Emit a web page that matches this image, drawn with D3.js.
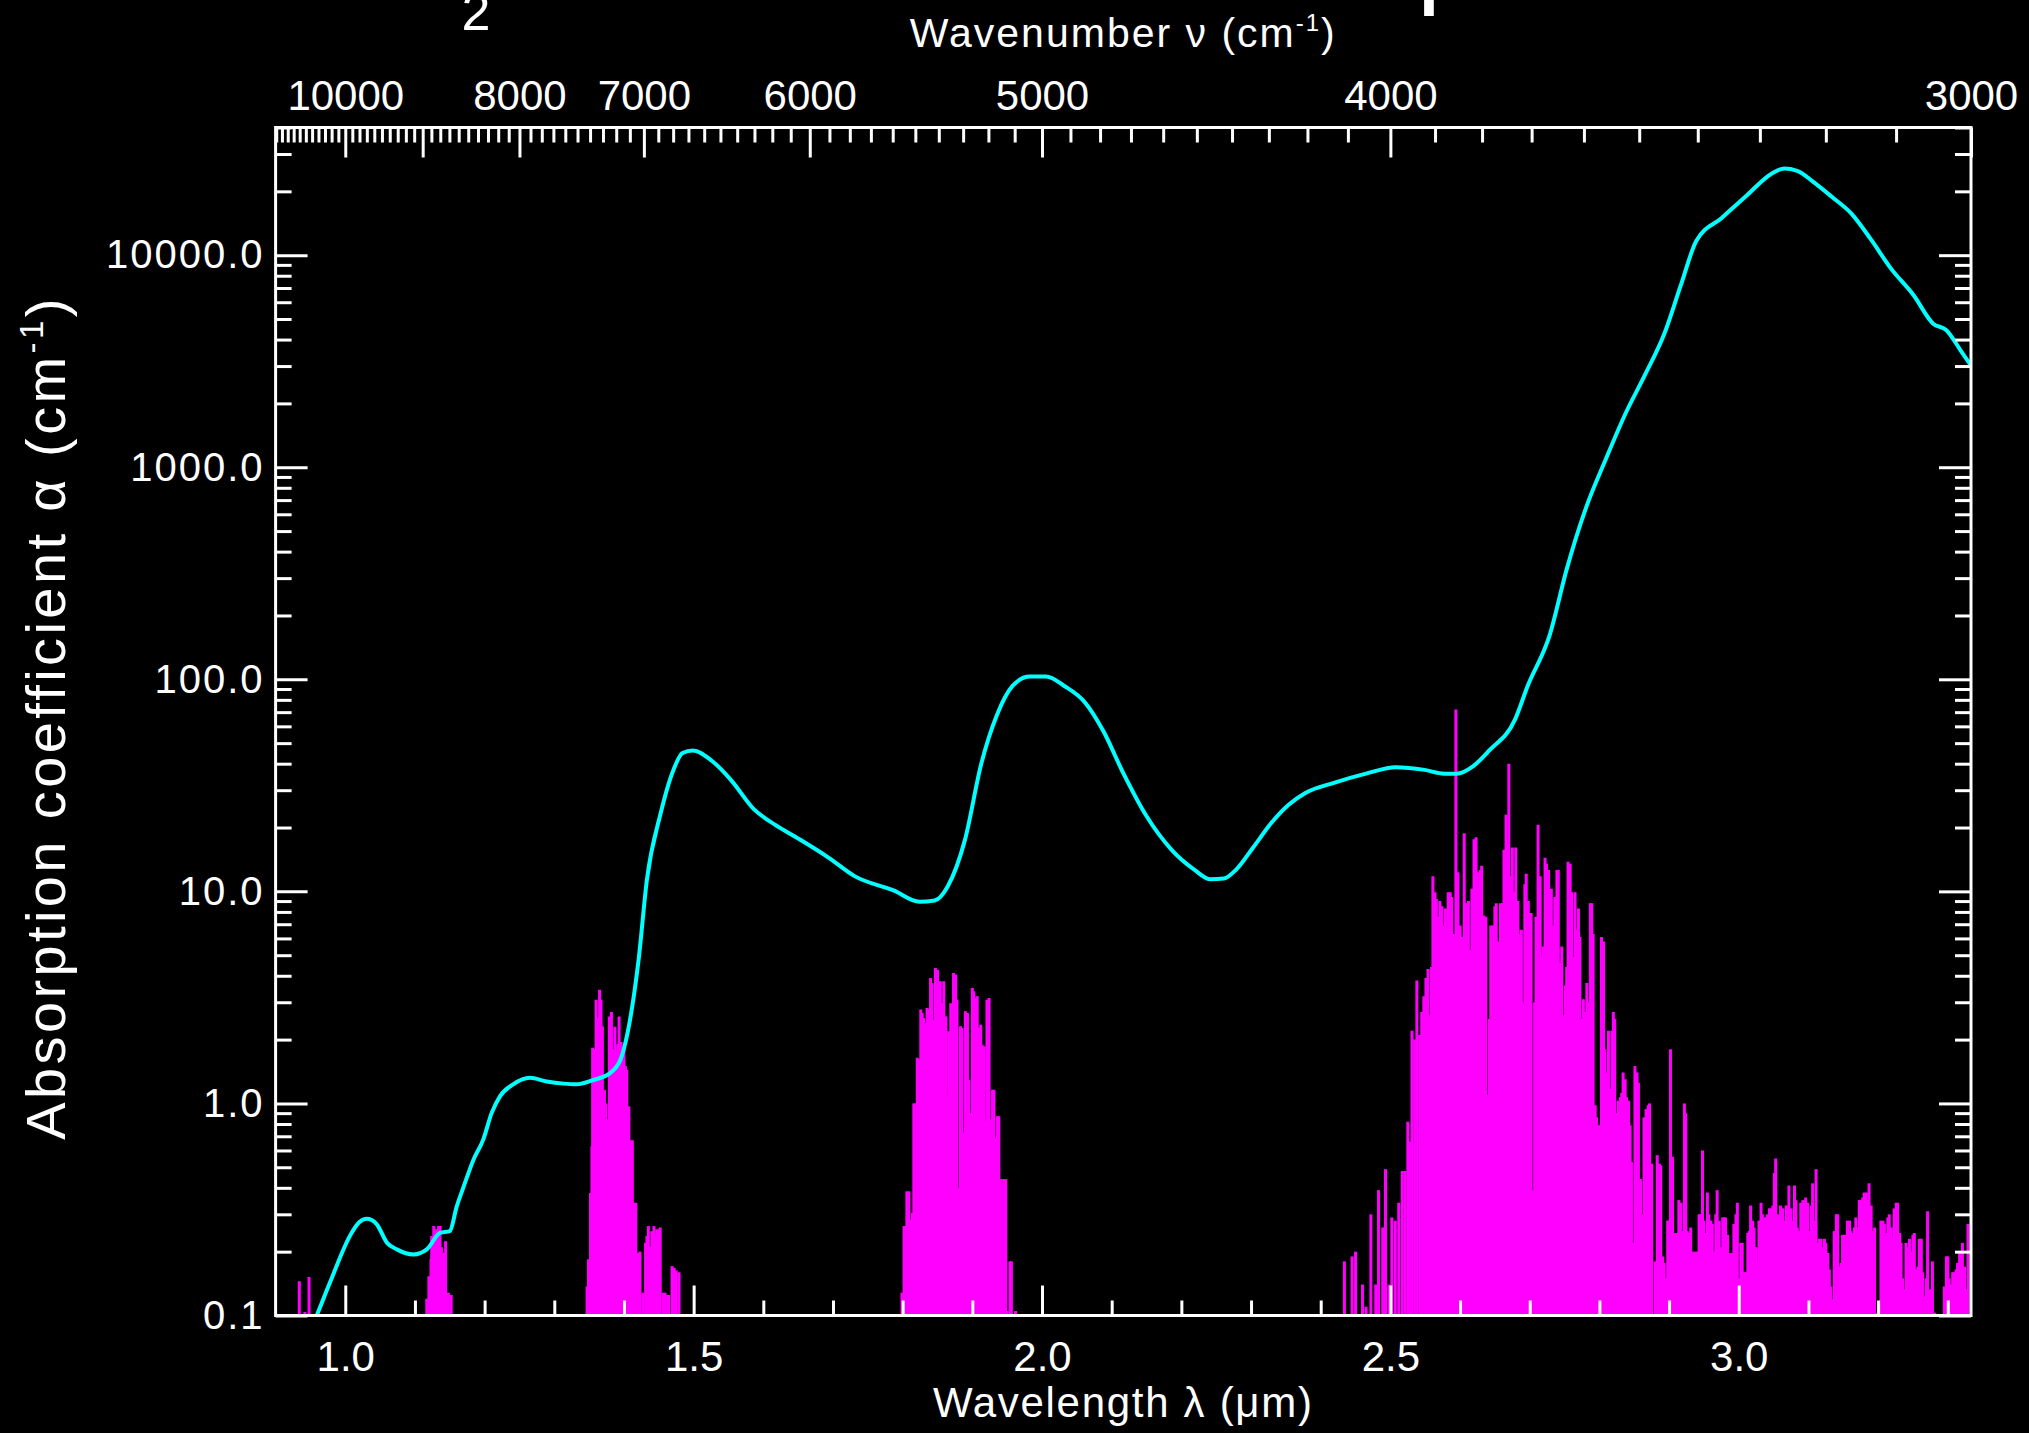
<!DOCTYPE html>
<html>
<head>
<meta charset="utf-8">
<script src="https://cdn.jsdelivr.net/npm/d3@7"></script>
<style>
  html, body { margin: 0; padding: 0; background: #000; }
  svg { display: block; background: #000; }
  text { font-family: "Liberation Sans", Arial, Helvetica, sans-serif; fill: #fff; }
</style>
</head>
<body>
<svg id="chart"></svg>
<script>
// cyan absorption curve [wavelength um, alpha cm-1]
var cyanCurve = [[0.950,0.085],[0.959,0.1],[0.978,0.143],[1.009,0.245],[1.020,0.275],[1.031,0.286],[1.045,0.27],[1.060,0.22],[1.074,0.205],[1.098,0.194],[1.117,0.205],[1.136,0.245],[1.150,0.25],[1.160,0.327],[1.170,0.406],[1.184,0.543],[1.198,0.675],[1.210,0.90],[1.222,1.08],[1.241,1.23],[1.265,1.32],[1.289,1.27],[1.313,1.24],[1.332,1.23],[1.356,1.29],[1.380,1.39],[1.395,1.61],[1.402,1.93],[1.421,4.76],[1.433,11.4],[1.452,22.9],[1.471,37.4],[1.484,44.9],[1.499,46.2],[1.526,41.3],[1.554,33.4],[1.586,24.5],[1.616,20.7],[1.647,18.0],[1.694,14.4],[1.731,11.8],[1.787,10.1],[1.824,8.93],[1.846,9.06],[1.865,10.6],[1.889,17.3],[1.913,40.2],[1.935,67.5],[1.958,93.3],[1.982,103],[2.006,103],[2.032,93],[2.062,77.6],[2.088,57.0],[2.117,35.9],[2.149,22.9],[2.186,15.7],[2.218,12.7],[2.242,11.4],[2.261,11.5],[2.279,12.7],[2.303,16.1],[2.329,21.0],[2.354,25.6],[2.378,29.1],[2.419,32.5],[2.465,35.9],[2.508,38.5],[2.549,37.4],[2.577,35.9],[2.595,35.9],[2.619,39.0],[2.642,46.2],[2.679,64.7],[2.697,93],[2.729,163],[2.753,330],[2.781,647],[2.809,1088],[2.837,1778],[2.865,2710],[2.893,4246],[2.917,7244],[2.939,11670],[2.976,15030],[3.013,19350],[3.047,24230],[3.065,25640],[3.084,25000],[3.106,22300],[3.134,18800],[3.162,15660],[3.190,11830],[3.218,8690],[3.251,6470],[3.279,4755],[3.298,4430],[3.320,3490],[3.337,2900]];

// magenta line spectrum, one band per array [wavelength um, alpha]
var bandA = [[0.934,0.145],[0.942,0.104],[0.948,0.152]];
var bandB = [[1.117,0.12],[1.120,0.153],[1.123,0.184],[1.124,0.237],[1.127,0.264],[1.129,0.25],[1.131,0.255],[1.134,0.264],[1.136,0.264],[1.138,0.21],[1.141,0.198],[1.144,0.224],[1.148,0.128],[1.152,0.125]];
var bandC = [[1.347,0.137],[1.349,0.184],[1.352,0.378],[1.354,0.628],[1.355,1.83],[1.358,1.8],[1.360,3.08],[1.363,2.53],[1.365,3.44],[1.367,3.08],[1.369,2.31],[1.372,1.16],[1.374,1.0],[1.377,0.84],[1.379,2.57],[1.382,2.7],[1.384,1.8],[1.387,2.3],[1.389,1.75],[1.391,1.9],[1.393,2.57],[1.396,1.95],[1.398,1.8],[1.400,1.85],[1.402,1.5],[1.404,1.44],[1.407,0.97],[1.410,0.67],[1.412,0.67],[1.414,0.34],[1.417,0.34],[1.420,0.197],[1.423,0.2],[1.427,0.128],[1.431,0.22],[1.433,0.237],[1.435,0.264],[1.438,0.21],[1.440,0.25],[1.443,0.264],[1.445,0.237],[1.447,0.255],[1.450,0.255],[1.452,0.26],[1.456,0.128],[1.459,0.128],[1.462,0.125],[1.464,0.125],[1.469,0.171],[1.472,0.168],[1.475,0.163],[1.479,0.16]];
var bandD = [[1.799,0.128],[1.802,0.264],[1.804,0.264],[1.806,0.385],[1.809,0.385],[1.811,0.283],[1.814,0.305],[1.816,1.0],[1.818,1.0],[1.821,1.64],[1.823,1.61],[1.826,2.77],[1.828,2.67],[1.830,2.53],[1.833,2.39],[1.835,2.82],[1.838,2.77],[1.840,3.9],[1.842,3.7],[1.845,2.48],[1.847,4.35],[1.850,4.27],[1.852,2.77],[1.854,3.77],[1.857,2.97],[1.859,3.77],[1.862,2.58],[1.864,1.1],[1.866,2.19],[1.869,2.97],[1.871,2.23],[1.873,4.12],[1.876,4.05],[1.878,3.08],[1.881,0.4],[1.883,2.31],[1.885,2.27],[1.888,0.73],[1.890,2.72],[1.893,2.67],[1.895,1.29],[1.897,0.9],[1.900,3.5],[1.902,3.38],[1.905,3.14],[1.907,3.2],[1.909,2.27],[1.912,2.35],[1.914,1.89],[1.917,1.86],[1.919,0.82],[1.921,3.08],[1.924,3.14],[1.926,0.84],[1.929,1.16],[1.931,1.16],[1.933,0.69],[1.936,0.87],[1.938,0.87],[1.941,0.44],[1.943,0.42],[1.945,0.44],[1.948,0.44],[1.950,0.105],[1.954,0.18],[1.956,0.18],[1.962,0.105]];
var bandE1 = [[2.434,0.18],[2.445,0.19],[2.450,0.20],[2.460,0.14],[2.465,0.11],[2.472,0.30],[2.479,0.14],[2.483,0.39],[2.489,0.26],[2.493,0.49],[2.498,0.14],[2.502,0.29],[2.507,0.28],[2.512,0.34],[2.517,0.48],[2.521,0.48],[2.525,0.82],[2.528,0.66],[2.531,2.2],[2.535,2.0],[2.538,3.8],[2.542,2.1],[2.545,2.7],[2.548,3.2],[2.551,3.9],[2.554,4.3],[2.557,2.6],[2.559,4.4],[2.561,11.8],[2.564,9.9],[2.566,9.2],[2.569,7.6],[2.571,9.0],[2.574,8.5],[2.576,6.9],[2.579,8.3],[2.581,6.6],[2.583,9.9],[2.586,9.9],[2.588,9.4],[2.591,6.3],[2.594,72],[2.597,12.3],[2.600,6.9],[2.603,6.1],[2.606,18.8],[2.609,8.8],[2.612,9.0],[2.614,5.3],[2.617,10.3],[2.620,17.6],[2.623,18],[2.626,12.3],[2.629,12.6],[2.631,13.2],[2.634,7.7],[2.637,7.6],[2.639,1.1],[2.642,2.5],[2.644,6.9],[2.647,6.9],[2.650,8.5],[2.652,8.8],[2.655,5.8],[2.658,8.8],[2.661,8.8],[2.663,15.7],[2.666,23],[2.668,16.8],[2.670,40],[2.673,11.8],[2.675,16.1],[2.678,9.9],[2.680,16.1],[2.683,9.0],[2.686,6.3],[2.688,6.6],[2.690,3.0],[2.693,10.8],[2.695,12.1],[2.698,9.0],[2.700,7.9],[2.702,7.9],[2.704,0.39],[2.707,3.0],[2.709,7.6],[2.712,20.6],[2.715,11.8],[2.717,4.9],[2.719,5.5],[2.722,14.4],[2.724,13.5],[2.727,12.6],[2.729,0.66],[2.731,10.3],[2.733,6.9],[2.736,9.4],[2.739,12.6],[2.741,12.6],[2.743,4.6],[2.746,5.5],[2.748,2.6],[2.751,3.6],[2.753,4.4],[2.755,13.8],[2.758,13.5],[2.760,9.9],[2.763,4.9],[2.765,9.9],[2.767,6.6],[2.770,8.3],[2.772,6.1],[2.775,2.5],[2.777,3.1],[2.779,2.7],[2.782,3.7],[2.784,3.0],[2.787,8.8],[2.789,8.8],[2.791,6.3],[2.794,0.98],[2.796,0.86],[2.799,0.79],[2.801,0.53],[2.803,6.1],[2.806,5.8],[2.808,1.8],[2.810,1.4],[2.813,2.2],[2.815,1.17],[2.818,2.2],[2.820,2.7],[2.822,2.5],[2.825,0.90],[2.827,1.03],[2.830,1.07],[2.832,1.12],[2.834,1.4],[2.837,1.3],[2.839,1.07],[2.842,1.03],[2.844,0.79],[2.846,0.53],[2.849,0.22],[2.851,1.5],[2.854,1.4],[2.856,1.25]];
var bandE2 = [[2.859,0.44],[2.862,0.3],[2.864,0.86],[2.867,0.94],[2.870,0.98],[2.872,1.0],[2.875,0.52],[2.880,0.18],[2.883,0.57],[2.886,0.52],[2.888,0.51],[2.891,0.19],[2.893,0.177],[2.895,0.15],[2.898,0.28],[2.900,0.28],[2.902,1.8],[2.905,0.56],[2.907,0.245],[2.910,0.245],[2.912,0.245],[2.914,0.35],[2.917,0.34],[2.919,0.25],[2.922,1.0],[2.924,0.9],[2.926,0.25],[2.929,0.245],[2.931,0.26],[2.934,0.20],[2.936,0.18],[2.938,0.20],[2.941,0.20],[2.943,0.30],[2.946,0.30],[2.948,0.60],[2.950,0.28],[2.953,0.245],[2.955,0.38],[2.957,0.30],[2.960,0.28],[2.962,0.27],[2.965,0.20],[2.967,0.30],[2.969,0.39],[2.972,0.28],[2.974,0.21],[2.977,0.29],[2.979,0.29],[2.981,0.29],[2.984,0.24],[2.986,0.197],[2.989,0.197],[2.991,0.197],[2.993,0.27],[2.996,0.30],[2.998,0.34],[3.001,0.15],[3.003,0.22],[3.005,0.22],[3.008,0.16],[3.010,0.16],[3.013,0.245],[3.015,0.25],[3.017,0.33],[3.020,0.28],[3.022,0.26],[3.025,0.21],[3.027,0.177],[3.029,0.28],[3.032,0.34],[3.034,0.30],[3.037,0.29],[3.039,0.29],[3.041,0.30],[3.044,0.32],[3.046,0.32],[3.049,0.33],[3.051,0.47],[3.053,0.55],[3.056,0.30],[3.058,0.29],[3.060,0.33],[3.063,0.32],[3.065,0.28],[3.068,0.33],[3.070,0.33],[3.072,0.41],[3.075,0.32],[3.077,0.28],[3.080,0.41],[3.082,0.35],[3.084,0.26],[3.087,0.25],[3.089,0.34],[3.092,0.35],[3.094,0.34],[3.096,0.36],[3.099,0.34],[3.101,0.25],[3.104,0.33],[3.106,0.42],[3.108,0.28],[3.111,0.49],[3.113,0.22],[3.116,0.23],[3.118,0.23],[3.120,0.21],[3.123,0.23],[3.125,0.22],[3.128,0.197],[3.130,0.165],[3.132,0.137],[3.135,0.119],[3.137,0.25],[3.140,0.30],[3.142,0.30],[3.144,0.17],[3.147,0.177],[3.149,0.24],[3.152,0.24],[3.154,0.20],[3.156,0.28],[3.159,0.28],[3.161,0.25],[3.163,0.245],[3.166,0.26],[3.168,0.29],[3.171,0.26],[3.173,0.35],[3.175,0.35],[3.178,0.36],[3.180,0.38],[3.183,0.38],[3.185,0.35],[3.187,0.42],[3.190,0.33],[3.192,0.25],[3.195,0.26],[3.197,0.103],[3.200,0.103],[3.202,0.11],[3.204,0.28],[3.207,0.28],[3.209,0.27],[3.211,0.245],[3.214,0.29],[3.216,0.30],[3.219,0.26],[3.221,0.23],[3.223,0.32],[3.226,0.34],[3.228,0.34],[3.231,0.245],[3.233,0.22],[3.235,0.15],[3.238,0.133],[3.240,0.22],[3.243,0.21],[3.245,0.23],[3.247,0.20],[3.250,0.24],[3.252,0.245],[3.254,0.165],[3.257,0.17],[3.259,0.23],[3.262,0.23],[3.264,0.16],[3.266,0.123],[3.269,0.15],[3.271,0.31],[3.274,0.133],[3.276,0.119],[3.278,0.18],[3.281,0.103],[3.295,0.137],[3.298,0.19],[3.300,0.19],[3.302,0.15],[3.305,0.14],[3.307,0.16],[3.309,0.16],[3.312,0.165],[3.314,0.177],[3.317,0.197],[3.319,0.19],[3.321,0.22],[3.324,0.17],[3.326,0.133],[3.329,0.27]];

// tick values
var xMajor = [1.0, 1.5, 2.0, 2.5, 3.0];
var xMinor = [1.1, 1.2, 1.3, 1.4, 1.6, 1.7, 1.8, 1.9, 2.1, 2.2, 2.3, 2.4, 2.6, 2.7, 2.8, 2.9, 3.1, 3.2, 3.3];
var yMajor = [0.1, 1, 10, 100, 1000, 10000];
var nuMajor = [10000, 9000, 8000, 7000, 6000, 5000, 4000, 3000];
var nuLabels = [10000, 8000, 7000, 6000, 5000, 4000, 3000];

var width = 2029, height = 1433;
var pLeft = 275.6, pRight = 1971, pTop = 127.5, pBottom = 1315.5;

var svg = d3.select("#chart").attr("width", width).attr("height", height);

var x = d3.scaleLinear().domain([0.9, 10 / 3]).range([pLeft, pRight]);
var y = d3.scaleLog().domain([0.1, 40000]).range([pBottom, pTop]);

// wavenumber (cm-1) -> pixel, shaped so d3.axisTop can use it
var nu = function(n) { return x(1e4 / n); };
nu.copy = function() { return nu; };
nu.range = function() { return x.range(); };
nu.domain = function() { return [1e4 / 0.9, 3000]; };

// y minor ticks 2..9 per decade
var yMinor = [];
yMajor.forEach(function(d) {
    for (var k = 2; k <= 9; k++) { if (d * k <= 40000) yMinor.push(d * k); }
});
var nuMinor = d3.range(3000, 11101, 100).filter(function(n) { return nuMajor.indexOf(n) < 0; });

svg.append("defs").append("clipPath").attr("id", "plotclip")
  .append("rect").attr("x", pLeft).attr("y", pTop).attr("width", pRight - pLeft).attr("height", pBottom - pTop);

// magenta lines
var sticks = bandA.concat(bandB, bandC, bandD, bandE1, bandE2);
svg.append("g").attr("clip-path", "url(#plotclip)")
  .selectAll("line").data(sticks).join("line")
    .attr("x1", function(d) { return x(d[0]); })
    .attr("x2", function(d) { return x(d[0]); })
    .attr("y1", y(0.1))
    .attr("y2", function(d) { return y(d[1]); })
    .attr("stroke", "#ff00ff")
    .attr("stroke-width", 3);

// cyan curve
var line = d3.line()
  .x(function(d) { return x(d[0]); })
  .y(function(d) { return y(d[1]); })
  .curve(d3.curveMonotoneX);
svg.append("g").attr("clip-path", "url(#plotclip)")
  .append("path").datum(cyanCurve)
    .attr("d", line)
    .attr("fill", "none")
    .attr("stroke", "#00ffff")
    .attr("stroke-width", 4)
    .attr("stroke-linejoin", "round");

function styleAxis(g, size) {
    g.select(".domain").remove();
    g.selectAll(".tick line").attr("stroke", "#fff").attr("stroke-width", 3);
    g.selectAll(".tick text").attr("font-size", size);
}

// bottom axis
svg.append("g").attr("transform", "translate(0," + pBottom + ")")
  .call(d3.axisBottom(x).tickValues(xMajor).tickSize(-30).tickPadding(26).tickFormat(d3.format(".1f")))
  .call(styleAxis, 42);
svg.append("g").attr("transform", "translate(0," + pBottom + ")")
  .call(d3.axisBottom(x).tickValues(xMinor).tickSize(-15).tickFormat(""))
  .call(styleAxis, 0);

// top axis (wavenumber)
svg.append("g").attr("transform", "translate(0," + pTop + ")")
  .call(d3.axisTop(nu).tickValues(nuMajor).tickSize(-30).tickPadding(18)
        .tickFormat(function(d) { return nuLabels.indexOf(d) >= 0 ? d : ""; }))
  .call(styleAxis, 42);
svg.append("g").attr("transform", "translate(0," + pTop + ")")
  .call(d3.axisTop(nu).tickValues(nuMinor).tickSize(-15).tickFormat(""))
  .call(styleAxis, 0);

// left axis
var gy = svg.append("g").attr("transform", "translate(" + pLeft + ",0)")
  .call(d3.axisLeft(y).tickValues(yMajor).tickSize(-32).tickPadding(11).tickFormat(d3.format(".1f")))
  .call(styleAxis, 40);
gy.selectAll(".tick text").attr("letter-spacing", 2);
svg.append("g").attr("transform", "translate(" + pLeft + ",0)")
  .call(d3.axisLeft(y).tickValues(yMinor).tickSize(-16).tickFormat(""))
  .call(styleAxis, 0);

// right axis
svg.append("g").attr("transform", "translate(" + pRight + ",0)")
  .call(d3.axisRight(y).tickValues(yMajor).tickSize(-32).tickFormat(""))
  .call(styleAxis, 0);
svg.append("g").attr("transform", "translate(" + pRight + ",0)")
  .call(d3.axisRight(y).tickValues(yMinor).tickSize(-16).tickFormat(""))
  .call(styleAxis, 0);

// frame
svg.append("rect")
  .attr("x", pLeft).attr("y", pTop)
  .attr("width", pRight - pLeft).attr("height", pBottom - pTop)
  .attr("fill", "none").attr("stroke", "#fff").attr("stroke-width", 3);

// titles
var cx = (pLeft + pRight) / 2;
svg.append("text").attr("x", cx).attr("y", 1417)
  .attr("text-anchor", "middle").attr("font-size", 42).attr("letter-spacing", 1.7)
  .text("Wavelength λ (μm)");

var tt = svg.append("text").attr("x", cx).attr("y", 47)
  .attr("text-anchor", "middle").attr("font-size", 41).attr("letter-spacing", 2);
tt.append("tspan").text("Wavenumber ν (cm");
tt.append("tspan").attr("font-size", 24).attr("dy", -16).text("-1");
tt.append("tspan").attr("dy", 16).text(")");

var yt = svg.append("text")
  .attr("transform", "translate(65," + ((pTop + pBottom) / 2 - 4) + ") rotate(-90)")
  .attr("text-anchor", "middle").attr("font-size", 56).attr("letter-spacing", 3.4);
yt.append("tspan").text("Absorption coefficient α (cm");
yt.append("tspan").attr("font-size", 33).attr("dy", -22).text("-1");
yt.append("tspan").attr("dy", 22).text(")");

// fragments of a title cut off at the top edge
svg.append("text").attr("x", 476).attr("y", 30)
  .attr("text-anchor", "middle").attr("font-size", 52).text("2");
svg.append("text").attr("x", 1429).attr("y", 16)
  .attr("text-anchor", "middle").attr("font-size", 70).attr("font-weight", "bold").text("l");
</script>
</body>
</html>
